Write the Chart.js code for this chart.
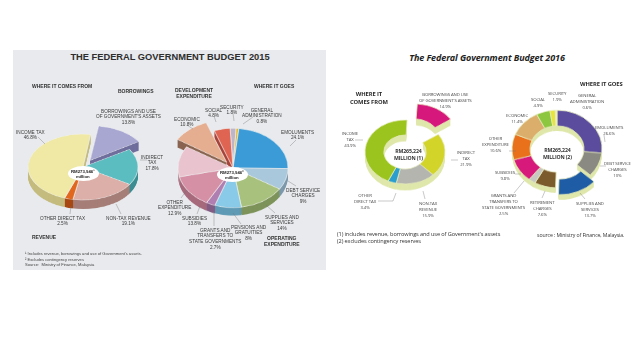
<!DOCTYPE html>
<html><head><meta charset="utf-8">
<script src="https://cdn.jsdelivr.net/npm/chart.js@4.4.1/dist/chart.umd.min.js"></script>
<style>
html,body{margin:0;padding:0;background:#fff;}
#root{position:relative;width:638px;height:359px;overflow:hidden;background:#fff;}
#panel{position:absolute;left:13px;top:50px;width:313px;height:220px;background:#e8eaed;}
.t{position:absolute;white-space:pre;text-align:center;transform-origin:0 0;}
.l15{font-family:"Liberation Sans Narrow","Liberation Sans",Arial,sans-serif;font-size:9.4px;line-height:11.2px;color:#3a3a3a;}
.b15{font-family:"Liberation Sans Narrow","Liberation Sans",Arial,sans-serif;font-size:10px;line-height:12px;color:#333;font-weight:bold;}
.f15{font-family:"Liberation Sans Narrow","Liberation Sans",Arial,sans-serif;font-size:8.2px;line-height:11px;color:#444;text-align:left;}
.c15{font-family:"Liberation Sans",Arial,sans-serif;font-size:8.6px;line-height:10px;color:#222;font-weight:bold;}
.l16{font-family:"Open Sans","Noto Sans",sans-serif;font-size:8.6px;line-height:12px;color:#4a4a4a;letter-spacing:-0.2px;}
.b16{font-family:"Open Sans","Noto Sans",sans-serif;font-size:11.6px;line-height:17px;color:#2a2a2a;font-weight:bold;letter-spacing:-0.2px;}
.f16{font-family:"Open Sans","Noto Sans",sans-serif;font-size:11.2px;line-height:14px;color:#333;text-align:left;letter-spacing:-0.2px;}
.s16{font-family:"Open Sans","Noto Sans",sans-serif;font-size:10.4px;line-height:14px;color:#333;text-align:left;letter-spacing:-0.2px;}
.c16{font-family:"Open Sans","Noto Sans",sans-serif;font-size:10.4px;line-height:14px;color:#333;font-weight:bold;letter-spacing:-0.3px;}
#title15{position:absolute;left:0;width:340px;top:52px;text-align:center;font:bold 9.3px/11px "Liberation Sans",Arial,sans-serif;color:#2e2e2e;}
#title16{position:absolute;left:327px;width:320px;top:52px;text-align:center;font:italic bold 9px/11px "Open Sans","Noto Sans",sans-serif;color:#1e1e1e;letter-spacing:-0.1px;}
.ell{position:absolute;background:#fff;border-radius:50%;}
svg{position:absolute;left:0;top:0;}
</style></head>
<body><div id="root"><div id="panel"></div>
<div id="title15">THE FEDERAL GOVERNMENT BUDGET 2015</div>
<div id="title16">The Federal Government Budget 2016</div>
</div>
<script>
// ---------------- data ----------------
const rev2015Cats = ["BORROWINGS AND USE\nOF GOVERNMENT'S ASSETS", "INDIRECT\nTAX", "NON-TAX REVENUE", "OTHER DIRECT TAX", "INCOME TAX"];
const rev2015Vals = [13.8, 17.8, 19.1, 2.5, 46.8];
const exp2015Cats = ["SECURITY", "GENERAL\nADMINISTRATION", "EMOLUMENTS", "DEBT SERVICE\nCHARGES", "SUPPLIES AND\nSERVICES", "PENSIONS AND\nGRATUITIES", "GRANTS AND\nTRANSFERS TO\nSTATE GOVERNMENTS", "SUBSIDIES", "OTHER\nEXPENDITURE", "ECONOMIC", "SOCIAL"];
const exp2015Vals = [1.8, 0.8, 24.1, 9, 14, 8, 2.7, 13.8, 12.9, 10.8, 4.8];
const rev2016Cats = ["BORROWINGS AND USE\nOF GOVERNMENT'S ASSETS", "INDIRECT\nTAX", "NON-TAX\nREVENUE", "OTHER\nDIRECT TAX", "INCOME\nTAX"];
const rev2016Vals = [14.9, 21.9, 15.9, 3.4, 43.9];
const exp2016Cats = ["EMOLUMENTS", "DEBT SERVICE\nCHARGES", "SUPPLIES AND\nSERVICES", "RETIREMENT\nCHARGES", "GRANTS AND\nTRANSFERS TO\nSTATE GOVERNMENTS", "SUBSIDIES", "OTHER\nEXPENDITURE", "ECONOMIC", "SOCIAL", "SECURITY", "GENERAL\nADMINISTRATION"];
const exp2016Vals = [26.6, 10, 13.7, 7.6, 2.5, 9.8, 10.6, 11.4, 4.9, 1.9, 0.6];
const totals2015 = ["RM273,946\u00b9\nmillion", "RM273,946\u00b2\nmillion"];
const totals2016 = ["RM265,224\nMILLION (1)", "RM265,224\nMILLION (2)"];

// ---------------- styles / layout ----------------
const rev2015Colors = ['#a8a7d2','#5cbdc1','#dcafa8','#e1671f','#efe9a5'];
const rev2015Side   = ['#6f6e9c','#3c8e92','#a67e78','#a84812','#c4bb7e'];
const exp2015Colors = ['#bdb6c8','#e8b82c','#3b9bd6','#a9c8dc','#a8c27d','#88cae8','#b07fb2','#d590a6','#e9c3ce','#e5ae90','#df6451'];
const exp2015Side   = ['#8a8496','#b08a1c','#2a74a3','#7d99ab','#7d935a','#5f9ab5','#825d85','#a66a7c','#b8929c','#8a6450','#a8443a'];
const rev2016Colors = ['#d6177b','#d3d42a','#b5b5b0','#2a9ecf','#9bc41e'];
const exp2016Colors = ['#5b4c9d','#8b8a82','#1f5ca6','#7b5a2c','#c8c8c2','#d7197b','#e9711c','#dcae6c','#8dc63f','#e7e43b','#f0eec0'];
const side16 = '#dfe7aa';

const root = document.getElementById('root');

function makePie(o){
  const m = 30;
  const R = o.rx;
  const dC = Math.round(o.depth / o.s);
  const W = 2*(R+m), H = 2*(R+m) + dC;
  const cv = document.createElement('canvas');
  cv.width = W; cv.height = H;
  cv.style.cssText = `position:absolute;left:${o.cx - W/2}px;top:${o.cy - (R+m)}px;width:${W}px;height:${H}px;transform:scaleY(${o.s});transform-origin:50% ${R+m}px;`;
  root.appendChild(cv);
  const cut = o.cutout || '0%';
  new Chart(cv, {
    type: 'doughnut',
    data: {labels: o.cats, datasets: [{
      data: o.vals, backgroundColor: o.colors, borderWidth: o.bw, borderColor: o.bc,
      offset: o.offsets, radius: R, cutout: cut, rotation: o.rotation
    }]},
    options: {
      responsive: false, animation: false, devicePixelRatio: 1, events: [],
      radius: R, cutout: cut, rotation: o.rotation,
      layout: {padding: {bottom: dC}},
      plugins: {legend: {display: false}, tooltip: {enabled: false}}
    },
    plugins: [{id: 'depth', beforeDatasetsDraw(chart){
      const ctx = chart.ctx, arcs = chart.getDatasetMeta(0).data;
      for (let d = dC; d >= 1; d--) {
        ctx.save(); ctx.translate(0, d);
        arcs.forEach((a, i) => {
          const f = Object.create(a);
          const sc = Array.isArray(o.side) ? o.side[i] : o.side;
          f.options = Object.assign({}, a.options, {backgroundColor: sc, borderColor: sc, borderWidth: 0});
          f.draw(ctx);
        });
        ctx.restore();
      }
    }}]
  });
}

function label(x, y, text, cls, scale, align){
  const d = document.createElement('div');
  d.className = 't ' + cls;
  d.textContent = text;
  root.appendChild(d);
  const k = scale || 0.5;
  const w = d.offsetWidth, lh = parseFloat(getComputedStyle(d).lineHeight);
  const left = align === 'left' ? x : x - w*k/2;
  d.style.left = left + 'px';
  d.style.top = (y - lh*k/2) + 'px';
  d.style.transform = `scale(${k})`;
}
function ell(cx, cy, w, h){
  const e = document.createElement('div'); e.className = 'ell';
  e.style.cssText = `left:${cx-w/2}px;top:${cy-h/2}px;width:${w}px;height:${h}px;`;
  root.appendChild(e);
}

// ---- 2015 pies ----
makePie({cx: 83, cy: 167, rx: 55, s: 0.6, depth: 9, cats: rev2015Cats, vals: rev2015Vals,
  colors: rev2015Colors, side: rev2015Side, bw: 0.7, bc: '#f2f2f2', rotation: 8,
  offsets: [52, 0, 0, 0, 0]});
makePie({cx: 233, cy: 168, rx: 55, s: 0.72, depth: 8, cats: exp2015Cats, vals: exp2015Vals,
  colors: exp2015Colors, side: exp2015Side, bw: 0.7, bc: '#f2f2f2', rotation: -3,
  offsets: [0,0,0,0,0,0,0,0,0,40,0]});
// ---- 2016 doughnuts ----
makePie({cx: 405, cy: 152, rx: 40, s: 0.8, depth: 6, cats: rev2016Cats, vals: rev2016Vals,
  colors: rev2016Colors, side: side16, bw: 0.8, bc: '#e6ecbc', rotation: 3, cutout: '53%',
  offsets: [76, 0, 0, 0, 0]});
makePie({cx: 557, cy: 149, rx: 45, s: 0.86, depth: 5, cats: exp2016Cats, vals: exp2016Vals,
  colors: exp2016Colors, side: side16, bw: 0.8, bc: '#e6ecbc', rotation: 0, cutout: '60%',
  offsets: [0,0,28,0,0,0,0,0,0,0,0]});

// ---- centre labels ----
ell(83, 173, 31, 15); ell(232, 174, 31, 15);
label(83, 171, totals2015[0], 'c15');
label(232, 172, totals2015[1], 'c15');
label(408, 150, totals2016[0], 'c16');
label(557, 149, totals2016[1], 'c16');

// ---- slice labels ----
const pos15r = [[128,111],[152,157],[128,218],[62,218],[30,132]];
const pos15e = [[232,107],[262,110],[297,132],[303,190],[282,217],[248,227],[215,230],[194,218],[175,202],[187,119],[213,110]];
const pos16r = [[445,94],[466,152],[428,203],[365,195],[350,133]];
const pos16e = [[609,127],[617,163],[590,203],[542,202],[503,195],[505,172],[495,138],[517,115],[538,99],[557,93],[587,95]];
rev2015Cats.forEach((c,i)=>label(pos15r[i][0], pos15r[i][1], c + '\n' + rev2015Vals[i] + '%', 'l15'));
exp2015Cats.forEach((c,i)=>label(pos15e[i][0], pos15e[i][1], c + '\n' + exp2015Vals[i] + '%', 'l15'));
rev2016Cats.forEach((c,i)=>label(pos16r[i][0], pos16r[i][1], c + '\n' + rev2016Vals[i] + '%', 'l16'));
exp2016Cats.forEach((c,i)=>label(pos16e[i][0], pos16e[i][1], c + '\n' + exp2016Vals[i] + '%', 'l16'));

// ---- headings / notes ----
label(62, 86, 'WHERE IT COMES FROM', 'b15');
label(136, 91, 'BORROWINGS', 'b15');
label(175, 90, 'DEVELOPMENT\nEXPENDITURE', 'b15', 0.5, 'left');
label(274, 86, 'WHERE IT GOES', 'b15');
label(32, 237, 'REVENUE', 'b15', 0.5, 'left');
label(282, 238, 'OPERATING\nEXPENDITURE', 'b15');
label(25, 254, "\u00b9 Includes revenue, borrowings and use of Government's assets.\n\u00b2 Excludes contingency reserves\nSource:  Ministry of Finance, Malaysia", 'f15', 0.5, 'left');
label(350, 93, 'WHERE IT\nCOMES FROM', 'b16', 0.5, 'left');
label(601, 83, 'WHERE IT GOES', 'b16');
label(337, 233, "(1) includes revenue, borrowings and use of Government's assets\n(2) excludes contingency reserves", 'f16', 0.5, 'left');
label(537, 234, 'source : Ministry of Finance, Malaysia.', 's16', 0.5, 'left');

// ---- leader lines ----
const lines = [
  [38,137,45,144],[70,214,71,206],[121,214,116,204],[147,160,140,160],
  [181,198,187,190],[197,214,200,206],[214,226,214,211],[241,224,233,213],[275,213,266,205],[296,186,288,181],[296,140,290,146],[253,117,243,124],[233,113,234,121],[214,116,216,122],[187,125,193,129],
  [355,140,363,140],[378,201,393,201],[393,201,396,193],[425,199,423,191],[458,160,451,160],
  [509,151,516,151],[515,174,521,174],[514,193,524,181],[542,198,545,191],[585,199,580,193],[606,166,600,166],[604,135,605,142]
];
const svgNS = 'http://www.w3.org/2000/svg';
const svg = document.createElementNS(svgNS, 'svg');
svg.setAttribute('width', 638); svg.setAttribute('height', 359);
lines.forEach(l=>{
  const e = document.createElementNS(svgNS, 'line');
  e.setAttribute('x1', l[0]); e.setAttribute('y1', l[1]); e.setAttribute('x2', l[2]); e.setAttribute('y2', l[3]);
  e.setAttribute('stroke', '#777'); e.setAttribute('stroke-width', '0.4');
  svg.appendChild(e);
});
root.appendChild(svg);
</script>
</body></html>
